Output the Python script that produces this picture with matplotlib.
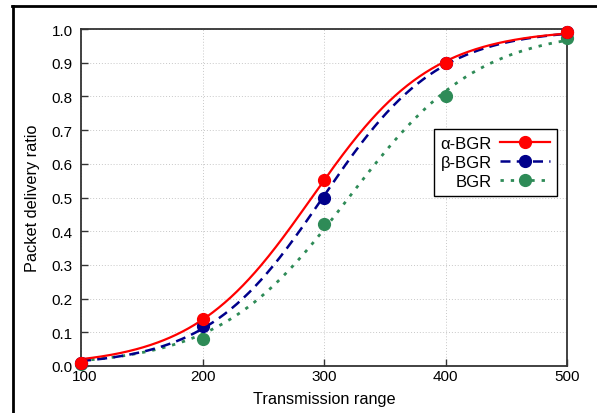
import numpy as np
import matplotlib

matplotlib.use('Agg')
import matplotlib.pyplot as plt
import matplotlib.transforms as mtransforms
from matplotlib.lines import Line2D

plt.rcParams['font.family'] = ['Liberation Sans', 'DejaVu Sans']

# Data
ranges = [100, 200, 300, 400, 500]
alpha_bgr = [0.01, 0.138, 0.553, 0.90, 0.99]
beta_bgr = [0.01, 0.118, 0.50, 0.90, 0.99]
bgr = [0.005, 0.08, 0.42, 0.80, 0.972]

series = [
    ('\u03b1-BGR', alpha_bgr, '#ff0000', '-', 1.6),
    ('\u03b2-BGR', beta_bgr, '#00008b', (0, (4, 2.5)), 1.8),
    ('BGR', bgr, '#2e8b57', (0, (1.2, 2.5)), 2.0),
]


def logistic(x, x0, s):
    return 1.0 / (1.0 + np.exp(-(x - x0) / s))


def fit_logistic(x, y):
    # brute force least squares, good enough for a smooth trend line
    x = np.asarray(x, float)
    y = np.asarray(y, float)
    best = (None, None, np.inf)
    for x0 in np.arange(200, 400, 0.5):
        for s in np.arange(20, 120, 0.5):
            err = np.sum((logistic(x, x0, s) - y) ** 2)
            if err < best[2]:
                best = (x0, s, err)
    return best[0], best[1]


fig = plt.figure(figsize=(5.97, 4.14), dpi=100)
ax = fig.add_axes([81 / 597, 1 - 367 / 414, 486 / 597, 337 / 414])

xs = np.linspace(100, 500, 400)
handles = []
n = len(series)
for i, (label, vals, color, ls, lw) in enumerate(series):
    x0, s = fit_logistic(ranges, vals)
    # first series ends up on top, as in the original
    ax.plot(xs, logistic(xs, x0, s), color=color, linestyle=ls, linewidth=lw,
            solid_capstyle='butt', dash_capstyle='butt', zorder=3 + (n - i) * 0.1)
    ax.plot(ranges, vals, 'o', color=color, markersize=8.5,
            zorder=4 + (n - i) * 0.1, clip_on=False)
    handles.append(Line2D([], [], color=color, linestyle=ls, linewidth=lw,
                          marker='o', markersize=8.5))

ax.set_xlim(100, 500)
ax.set_ylim(0, 1)
ax.set_xticks([100, 200, 300, 400, 500])
ax.set_yticks(np.arange(0, 1.01, 0.1))
ax.set_yticklabels([f'{v:.1f}' for v in np.arange(0, 1.01, 0.1)])
ax.tick_params(direction='in', length=5, width=1, labelsize=11, pad=6,
               color='#333333')
ax.tick_params(axis='x', pad=2)
ax.grid(True, color='#c8c8c8', linestyle=(0, (1, 2)), linewidth=0.7)
for sp in ax.spines.values():
    sp.set_color('#333333')
    sp.set_linewidth(1.3)

# nudge the first x label right so it clears the "0.0" label a bit
first = ax.get_xticklabels()[0]
first.set_transform(first.get_transform() +
                    mtransforms.ScaledTranslation(4 / 100, 0, fig.dpi_scale_trans))

ax.set_xlabel('Transmission range', fontsize=11.7, labelpad=6)
ax.set_ylabel('Packet delivery ratio', fontsize=11.7, labelpad=8)

leg = ax.legend(handles, [s[0] for s in series], loc='upper right',
                bbox_to_anchor=(0.979, 0.703), markerfirst=False, numpoints=1,
                handlelength=3.0, fontsize=12, fancybox=False,
                framealpha=1, edgecolor='black', borderpad=0.4,
                labelspacing=0.25, handletextpad=0.5, borderaxespad=0)
leg.get_frame().set_linewidth(1.0)

# outer frame of the original figure (cropped on the right and bottom)
fig.add_artist(Line2D([13 / 597, 13 / 597], [0, 1 - 7 / 414],
                      transform=fig.transFigure, color='black', linewidth=2))
fig.add_artist(Line2D([12 / 597, 1], [1 - 7 / 414, 1 - 7 / 414],
                      transform=fig.transFigure, color='black', linewidth=2))

fig.savefig('out.png', dpi=100)
